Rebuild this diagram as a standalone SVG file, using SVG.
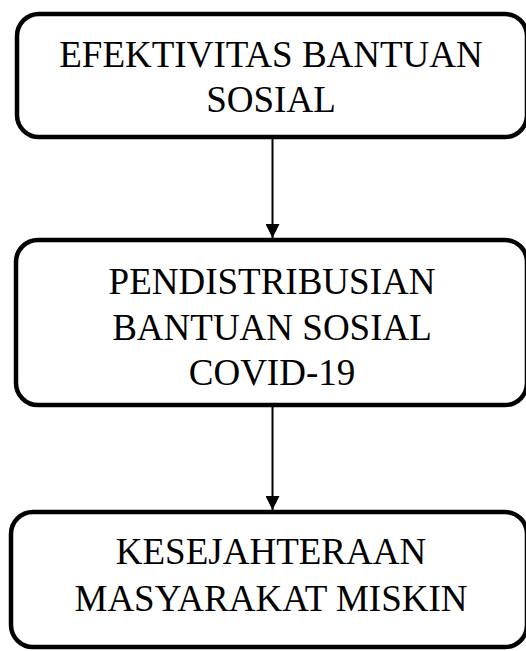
<svg xmlns="http://www.w3.org/2000/svg" width="526" height="651" viewBox="0 0 526 651">
<defs>
<style>
.box{fill:#fff;stroke:#000;stroke-width:4.5}
.t{font-family:"Liberation Serif","Times New Roman",serif;font-size:37px;fill:#000;text-anchor:middle}
.c{stroke:#000;stroke-width:2;fill:none}
</style>
<marker id="ah" markerUnits="userSpaceOnUse" markerWidth="16" markerHeight="14" refX="14" refY="7" orient="auto">
<path d="M0,0 L14,7 L0,14 Z" fill="#000"/>
</marker>
</defs>
<rect width="526" height="651" fill="#fff"/>
<g id="connectors">
<line class="c" x1="272.5" y1="139" x2="272.5" y2="238" marker-end="url(#ah)"/>
<line class="c" x1="272.5" y1="407" x2="272.5" y2="510" marker-end="url(#ah)"/>
</g>
<g id="node1">
<rect class="box" x="17" y="14" width="510" height="123" rx="22"/>
<text class="t" x="271" y="67">EFEKTIVITAS BANTUAN</text>
<text class="t" x="271" y="112">SOSIAL</text>
</g>
<g id="node2">
<rect class="box" x="16" y="240" width="511" height="165" rx="22"/>
<text class="t" x="272" y="294">PENDISTRIBUSIAN</text>
<text class="t" x="272" y="340">BANTUAN SOSIAL</text>
<text class="t" x="272" y="385">COVID-19</text>
</g>
<g id="node3">
<rect class="box" x="11" y="512" width="516" height="135" rx="22"/>
<text class="t" x="271" y="564">KESEJAHTERAAN</text>
<text class="t" x="271" y="611">MASYARAKAT MISKIN</text>
</g>
</svg>
